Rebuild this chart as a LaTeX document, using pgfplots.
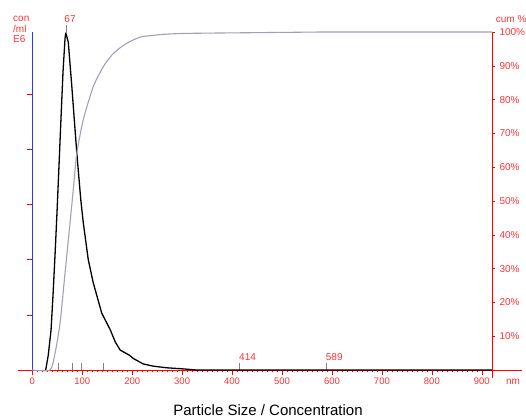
\documentclass[border=0pt]{standalone}
\usepackage{pgfplots}
\pgfplotsset{compat=1.18}
\usepackage{fontspec}
\setmainfont{Liberation Sans}
\definecolor{lr}{RGB}{255,50,50}
\definecolor{cg}{RGB}{160,160,186}
\definecolor{bl}{RGB}{40,60,255}
\begin{document}
\begin{tikzpicture}[x=1pt,y=1pt]
\path[use as bounding box] (0,0) rectangle (526,419);
\begin{axis}[
  at={(32.3pt,49pt)}, anchor=south west, scale only axis,
  width=460pt, height=338pt,
  xmin=0, xmax=921, ymin=0, ymax=6.12,
  clip=false,
  axis x line=bottom, axis y line=left,
  x axis line style={-, draw=red, line width=0.6pt, shorten <=-14pt, shorten >=-30pt},
  y axis line style={-, draw=bl, line width=0.6pt},
  xtick={0,100,...,900}, minor x tick num=9,
  ytick={1,...,5}, yticklabels={},
  tick align=outside,
  major tick length=5.5pt, minor tick length=2.5pt,
  tick style={draw=red, line width=0.5pt},
  xticklabel style={text=lr, font=\fontsize{9.5}{10}\selectfont, yshift=1pt},
  /pgf/number format/assume math mode=true,
  extra x ticks={52,80,99,143,414,589},
  extra x tick labels={},
  extra x tick style={tick align=inside, major tick length=7pt, tick style={draw=cg!80!black, line width=0.6pt}},
]
\addplot[black, line width=1.3pt, line join=round] coordinates {
(26.8,0) (32,0.27) (37.5,0.72) (41.5,1.36) (45.5,2.08) (49.5,2.86) (53.5,3.71) (57.5,4.57)
(61.5,5.4) (65.5,6.0) (67,6.1)
(72,5.94) (79,5.15) (89,3.94) (97,3.09) (102,2.67) (112,2.0) (122,1.58) (139,1.03)
(156,0.73) (166,0.51) (176,0.36) (194,0.27) (202,0.21) (222,0.11) (242,0.07) (269,0.04)
(302,0.02) (329,0) (921,0)
};
\draw[cg!80!black, line width=0.5pt] (axis cs:67,6.1) -- ++(0,8pt);
\end{axis}
\begin{axis}[
  at={(32.3pt,49pt)}, anchor=south west, scale only axis,
  width=460pt, height=338pt,
  xmin=0, xmax=921, ymin=0, ymax=100,
  clip=false,
  axis x line=none, axis y line=right,
  y axis line style={-, draw=red, line width=0.7pt, shorten <=-8pt},
  ytick={10,20,...,100},
  yticklabel={\pgfmathprintnumber{\tick}\%},
  tick align=outside, major tick length=3pt,
  tick style={draw=red, line width=0.5pt},
  yticklabel style={text=lr, font=\fontsize{10}{11}\selectfont, anchor=west, inner sep=0pt, xshift=4pt},
  /pgf/number format/assume math mode=true,
]
\addplot[cg, line width=1.1pt, line join=round, smooth, tension=0.4] coordinates {
(0,0) (35.5,0) (45.5,4.9) (55.5,13.8) (65.5,28.6) (75.5,43.4) (82,53.3) (89,64) (102,74)
(122,83.8) (142,89.7) (160,93.3) (180,95.8) (200,97.5) (220,98.6) (263,99.3)
(316,99.6) (516,99.9) (600,100) (921,100)
};
\end{axis}
\node[text=lr, font=\fontsize{10}{11}\selectfont] at (70,400) {67};
\node[text=lr, font=\fontsize{10}{11}\selectfont, anchor=west, inner sep=0pt] at (239,61.5) {414};
\node[text=lr, font=\fontsize{10}{11}\selectfont, anchor=west, inner sep=0pt] at (325.7,62) {589};
\node[text=lr, font=\fontsize{10}{11}\selectfont] at (513,37.5) {nm};
\node[text=lr, font=\fontsize{10}{11}\selectfont, anchor=west, inner sep=0pt] at (495.7,400) {cum \%};
\node[text=lr, font=\fontsize{10}{10.6}\selectfont, anchor=north west, align=left, inner sep=0pt] at (13,403) {con\\/ml\\E6};
\node[font=\fontsize{15}{17}\selectfont, inner sep=1pt] at (268,9) {Particle Size / Concentration};
\end{tikzpicture}
\end{document}
